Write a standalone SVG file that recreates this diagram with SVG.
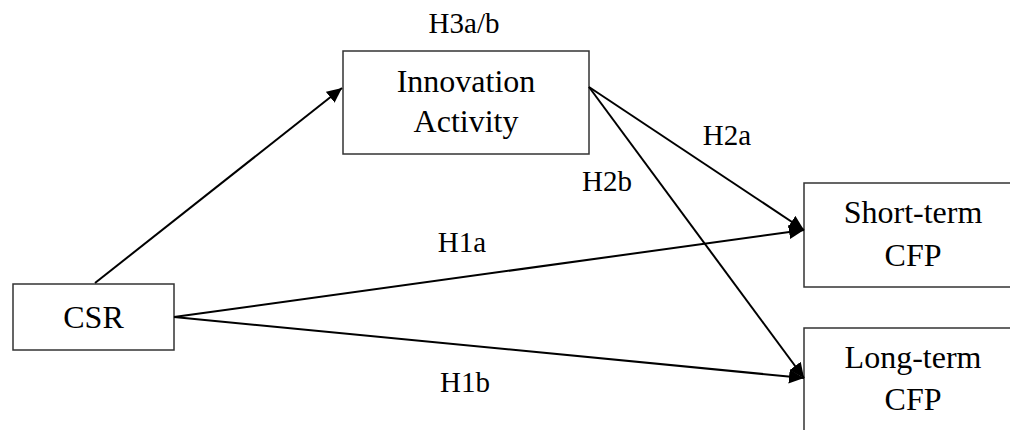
<svg xmlns="http://www.w3.org/2000/svg" width="1010" height="430" viewBox="0 0 1010 430">
<style>
.box{fill:#fff;stroke:#333;stroke-width:1.5}
.lbl{font-family:"Liberation Serif","Times New Roman",serif;font-size:32px;fill:#000;text-anchor:middle}
.hyp{font-family:"Liberation Serif","Times New Roman",serif;font-size:29px;fill:#000;text-anchor:middle}
.edge{stroke:#000;stroke-width:2;fill:none;marker-end:url(#arr)}
</style>
<defs>
<marker id="arr" markerUnits="userSpaceOnUse" markerWidth="16" markerHeight="14" refX="15" refY="7" orient="auto">
<path d="M0,0 L15,7 L0,14 Z" fill="#000"/>
</marker>
</defs>
<rect width="1010" height="430" fill="#fff"/>
<g id="innovation">
<rect class="box" x="343" y="51" width="246" height="103"/>
<text class="lbl" x="466" y="92">Innovation</text>
<text class="lbl" x="466" y="132">Activity</text>
</g>
<g id="csr">
<rect class="box" x="13" y="284" width="161" height="66"/>
<text class="lbl" x="93.5" y="328">CSR</text>
</g>
<g id="short">
<rect class="box" x="804" y="183" width="220" height="104"/>
<text class="lbl" x="913" y="223">Short-term</text>
<text class="lbl" x="913" y="266">CFP</text>
</g>
<g id="long">
<rect class="box" x="804" y="328" width="220" height="120"/>
<text class="lbl" x="913" y="368">Long-term</text>
<text class="lbl" x="913" y="410">CFP</text>
</g>
<g id="connectors">
<line class="edge" x1="95" y1="283" x2="342" y2="88"/>
<line class="edge" x1="589" y1="87" x2="804" y2="230"/>
<line class="edge" x1="589" y1="87" x2="804" y2="378"/>
<line class="edge" x1="174" y1="317" x2="804" y2="230"/>
<line class="edge" x1="174" y1="317" x2="804" y2="378"/>
</g>
<g id="labels">
<text class="hyp" x="464" y="33">H3a/b</text>
<text class="hyp" x="727" y="145">H2a</text>
<text class="hyp" x="607" y="191">H2b</text>
<text class="hyp" x="462" y="252">H1a</text>
<text class="hyp" x="465" y="392">H1b</text>
</g>
</svg>
